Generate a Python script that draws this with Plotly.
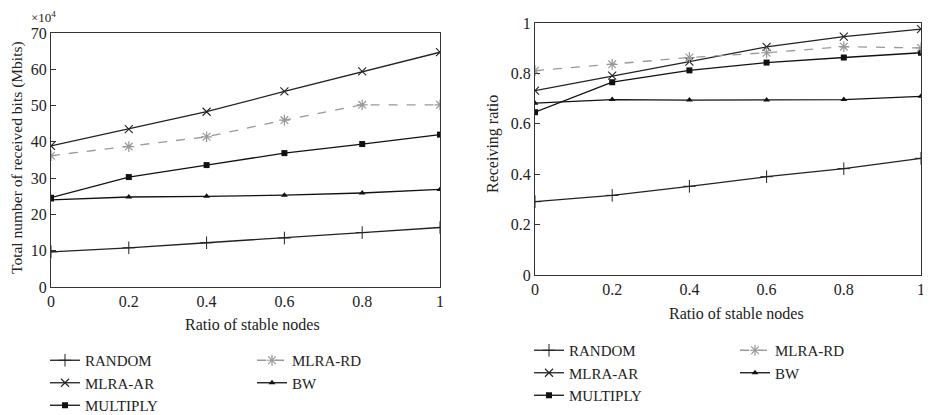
import plotly.graph_objects as go

x_ratio = [0, 0.2, 0.4, 0.6, 0.8, 1]

# Left: total received bits (x 10^4 Mbits)
bits_random = [9.7, 10.8, 12.2, 13.5, 15.0, 16.4]
bits_mlra_ar = [38.9, 43.5, 48.3, 53.9, 59.4, 64.7]
bits_mlra_rd = [36.2, 38.7, 41.4, 46.0, 50.2, 50.2]
bits_multiply = [24.6, 30.3, 33.6, 36.9, 39.4, 42.0]
bits_bw = [24.0, 24.8, 25.0, 25.3, 25.9, 26.9]

# Right: receiving ratio
ratio_random = [0.291, 0.316, 0.352, 0.390, 0.422, 0.463]
ratio_mlra_ar = [0.732, 0.791, 0.847, 0.905, 0.946, 0.976]
ratio_mlra_rd = [0.811, 0.836, 0.863, 0.882, 0.906, 0.901]
ratio_multiply = [0.646, 0.765, 0.812, 0.843, 0.863, 0.882]
ratio_bw = [0.682, 0.696, 0.694, 0.694, 0.696, 0.709]

names = ["RANDOM", "MLRA-AR", "MULTIPLY", "MLRA-RD", "BW"]
x_ticks = [0, 0.2, 0.4, 0.6, 0.8, 1]
x_tick_text = ["0", "0.2", "0.4", "0.6", "0.8", "1"]
left_y_ticks = [0, 10, 20, 30, 40, 50, 60, 70]
right_y_ticks = [0, 0.2, 0.4, 0.6, 0.8, 1]
right_y_text = ["0", "0.2", "0.4", "0.6", "0.8", "1"]

FONT = "Liberation Serif"
styles = {
    "RANDOM": dict(line=dict(color="#222", width=1.3), marker=dict(symbol="cross-thin", size=9, color="#222", line=dict(color="#222", width=1))),
    "MLRA-AR": dict(line=dict(color="#222", width=1.3), marker=dict(symbol="x-thin", size=8, color="#222", line=dict(color="#222", width=1.1))),
    "MULTIPLY": dict(line=dict(color="#111", width=1.3), marker=dict(symbol="square", size=6, color="#111")),
    "MLRA-RD": dict(line=dict(color="#999", width=1.3, dash="dash"), marker=dict(symbol="asterisk", size=9, color="#999", line=dict(color="#999", width=1.2))),
    "BW": dict(line=dict(color="#111", width=1.3), marker=dict(symbol="triangle-up", size=6, color="#111")),
}

left_data = dict(zip(names, [bits_random, bits_mlra_ar, bits_multiply, bits_mlra_rd, bits_bw]))
right_data = dict(zip(names, [ratio_random, ratio_mlra_ar, ratio_multiply, ratio_mlra_rd, ratio_bw]))

fig = go.Figure()
col1 = {"RANDOM", "MLRA-AR", "MULTIPLY"}
for n in names:
    fig.add_trace(go.Scatter(x=x_ratio, y=left_data[n], name=n, mode="lines+markers",
                             xaxis="x", yaxis="y", legend="legend" if n in col1 else "legend2",
                             **styles[n]))
for n in names:
    fig.add_trace(go.Scatter(x=x_ratio, y=right_data[n], name=n, mode="lines+markers",
                             xaxis="x2", yaxis="y2", legend="legend3" if n in col1 else "legend4",
                             **styles[n]))

# page body has an 8px margin, so the figure is sized to fit the window
OFF = 8
FW, FH = 931 - OFF, 415 - OFF
MR = 0
def px(v):
    return (v - OFF) / (FW - MR)
def py(v):
    return (FH - (v - OFF)) / FH

axis_common = dict(showline=True, linecolor="#333", linewidth=1.3, mirror=True,
                   showgrid=False, zeroline=False, ticklabeloverflow="allow",
                   tickfont=dict(family=FONT, size=16, color="#222"))

fig.update_layout(
    width=FW, height=FH, margin=dict(l=0, r=MR, t=0, b=0, autoexpand=False),
    paper_bgcolor="white", plot_bgcolor="white",
    font=dict(family=FONT, color="#222"),
    xaxis=dict(domain=[px(51), px(440)], range=[0, 1], tickvals=x_ticks, ticktext=x_tick_text,
               ticks="", anchor="y", **axis_common),
    yaxis=dict(domain=[py(287), py(33)], range=[0, 70], tickvals=left_y_ticks,
               ticks="inside", ticklen=5, tickcolor="#333", anchor="x", **axis_common),
    xaxis2=dict(domain=[px(535), px(921)], range=[0, 1], tickvals=x_ticks, ticktext=x_tick_text,
                ticks="", anchor="y2", **axis_common),
    yaxis2=dict(domain=[py(275), py(23)], range=[0, 1], tickvals=right_y_ticks, ticktext=right_y_text,
                ticks="inside", ticklen=5, tickcolor="#333", anchor="x2", **axis_common),
    showlegend=True,
)

leg_common = dict(bgcolor="rgba(0,0,0,0)", font=dict(family=FONT, size=15, color="#222"),
                  orientation="v", xanchor="left", yanchor="top", tracegroupgap=0,
                  itemsizing="trace", itemwidth=30)
fig.update_layout(
    legend=dict(x=px(45), y=py(344), **leg_common),
    legend2=dict(x=px(252), y=py(344), **leg_common),
    legend3=dict(x=px(529), y=py(334), **leg_common),
    legend4=dict(x=px(735), y=py(334), **leg_common),
)

ann = [
    dict(text="Ratio of stable nodes", x=px(252), y=py(324), xref="paper", yref="paper",
         showarrow=False, font=dict(family=FONT, size=16, color="#222"), xanchor="center", yanchor="middle"),
    dict(text="Ratio of stable nodes", x=px(736), y=py(313), xref="paper", yref="paper",
         showarrow=False, font=dict(family=FONT, size=16, color="#222"), xanchor="center", yanchor="middle"),
    dict(text="Total number of received bits (Mbits)", x=px(17), y=py(158), xref="paper", yref="paper",
         showarrow=False, textangle=-90, font=dict(family=FONT, size=15.5, color="#222"), xanchor="center", yanchor="middle"),
    dict(text="Receiving ratio", x=px(493), y=py(144), xref="paper", yref="paper",
         showarrow=False, textangle=-90, font=dict(family=FONT, size=16, color="#222"), xanchor="center", yanchor="middle"),
    dict(text="×10<sup>4</sup>", x=px(29), y=py(17), xref="paper", yref="paper",
         showarrow=False, font=dict(family=FONT, size=13, color="#222"), xanchor="left", yanchor="middle"),
]
fig.update_layout(annotations=ann)

fig.write_html("out.html")
